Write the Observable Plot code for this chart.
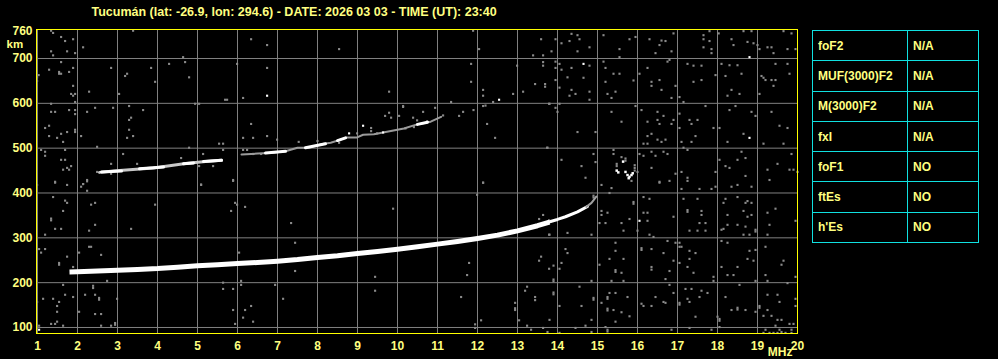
<!DOCTYPE html>
<html>
<head>
<meta charset="utf-8">
<script src="https://cdn.jsdelivr.net/npm/d3@7"></script>
<script src="https://cdn.jsdelivr.net/npm/@observablehq/plot@0.6"></script>
<style>
  html, body { margin: 0; padding: 0; background: #000; }
  #wrap { position: relative; width: 998px; height: 359px; overflow: hidden; background: #000; }
  #params { position: absolute; left: 812px; top: 30px; border-collapse: collapse; font-family: "Liberation Sans", Arial, sans-serif; font-weight: bold; font-size: 12px; color: #ffff80; }
  #params td { border: 1px solid #10e0e0; height: 30.3px; padding: 0 0 0 5px; box-sizing: border-box; }
  #params td.n { width: 95px; }
  #params td.v { width: 71px; }
</style>
</head>
<body>
<div id="wrap"></div>
<script>
// ---- data ----
const titleText = "Tucumán (lat: -26.9, lon: 294.6) - DATE: 2026 03 03 - TIME (UT): 23:40";
const freqTicks = [1,2,3,4,5,6,7,8,9,10,11,12,13,14,15,16,17,18,19,20];
const heightTicks = [100,200,300,400,500,600,700,760];
const paramNames = ["foF2","MUF(3000)F2","M(3000)F2","fxI","foF1","ftEs","h'Es"];
const paramValues = ["N/A","N/A","N/A","N/A","NO","NO","NO"];

// F-layer first-hop trace [MHz, km]
const traceF = [[1.8,224],[2,224.5],[2.5,226],[3,227.5],[3.5,229.5],[4,231.5],[4.5,234.5],[5,237.5],[5.5,240],[6,242.5],[6.5,245],[7,248],[7.5,251.5],[8,256],[8.5,260],[9,265],[9.5,269.5],[10,274.5],[10.5,280],[11,286],[11.5,292],[12,298.5],[12.5,306],[13,315.5],[13.5,327],[13.8,335]];
const traceFTail = [[13.7,333],[14.0,341],[14.2,347],[14.5,358],[14.75,370]];
const traceFEnd = [[14.72,369],[14.85,378],[14.97,392]];
// second-hop echo (grey base, white bright parts)
const echo2A = [[2.55,446],[2.9,449],[3.3,452],[3.9,456],[4.3,461],[4.7,466],[5.2,470],[5.6,473]];
const echo2B = [[6.1,486],[6.5,488],[6.9,490],[7.2,493],[7.5,501],[7.78,501],[7.98,506],[8.16,510],[8.33,512],[8.54,518],[8.74,524],[8.99,524],[9.14,530],[9.41,531],[9.64,535],[10.16,544],[10.49,553],[10.83,559],[11.09,570]];
const echo2White = [
  [[2.6,447],[3.1,449]],
  [[3.55,454],[4.15,458]],
  [[4.65,465],[4.9,467]],
  [[5.15,470],[5.6,473]],
  [[6.7,489],[7.2,493]],
  [[7.7,501],[8.2,510]],
  [[8.5,517],[8.7,523]],
  [[10.5,553],[10.75,558]]
];
const echo2Dots = [[8.79,533],[9.14,550],[9.64,535],[10.74,559],[12.54,608]];
// curl near 15.5 MHz
const curlWhite = [[15.48,450],[15.52,446],[15.64,470],[15.7,447],[15.75,440],[15.8,436],[15.85,440],[15.88,444],[15.78,433]];
const curlGrey = [[15.48,460],[15.48,465],[15.7,472],[15.7,477],[15.93,450],[15.93,456],[15.93,462],[15.6,480],[16.0,447]];

// scattered noise points [MHz, km]
const noiseWhite = [[6.74,617],[14.65,688],[18.8,703],[18.8,523],[1.04,95],[16.05,338]];
const noiseGrey = [
[1.34,762],[1.39,757],[1.59,748],[1.69,739],[1.89,743],[2.14,725],[1.34,716],[1.39,707],[1.74,716],[1.94,712],[1.59,692],[1.29,675],[1.54,666],[1.54,670],[1.59,666],[1.79,670],[1.89,679],[1.03,663],[2.84,679],[3.24,666],[3.19,661],[3.84,679],[4.29,688],[4.64,703],[4.69,692],[4.79,658],[3.94,648],[1.89,639],[2.29,626],[3.04,621],[1.84,621],[1.89,617],[1.94,621],[1.94,603],[1.34,599],[1.34,581],[1.44,581],[1.79,585],[1.94,585],[1.94,576],[2.24,581],[2.44,590],[2.89,590],[3.29,594],[3.64,585],[3.34,568],[3.29,563],[1.19,545],[1.29,550],[1.74,536],[1.59,532],[1.94,541],[1.94,536],[1.29,527],[1.49,523],[1.64,514],[2.09,527],[3.29,541],[3.24,523],[3.39,527],[2.49,503],[1.69,496],[1.09,496],[1.19,492],[1.19,483],[1.59,474],[1.69,474],[1.84,460],[1.74,456],[1.64,452],[1.79,452],[2.84,465],[2.84,443],[2.49,447],[3.14,487],[3.49,465],[4.59,478],[4.79,501],[5.14,487],[5.04,460],[5.39,460],[5.69,608],[5.74,608],[4.94,599],[5.04,599],[5.99,688],[6.14,612],[6.34,743],[6.74,730],[6.74,679],[6.34,554],[6.74,527],[6.14,523],[6.39,523],[6.99,519],[5.54,510],[5.64,510],[5.64,496],[6.14,496],[6.24,496],[6.39,487],[6.59,487],[1.44,425],[2.14,420],[2.24,429],[5.89,429],[5.09,419],[0.99,658],[0.99,650],[3.39,762],
[11.89,762],[13.59,743],[8.54,721],[12.04,721],[13.39,707],[13.64,707],[13.64,692],[13.64,684],[12.99,684],[11.84,688],[11.84,648],[12.14,630],[9.79,626],[13.44,643],[13.69,643],[13.69,637],[13.14,626],[12.89,621],[12.14,617],[12.39,603],[11.34,603],[12.14,594],[13.79,599],[10.14,594],[10.94,590],[10.64,581],[11.64,581],[11.54,572],[12.24,554],[12.44,523],[13.74,501],[12.14,423],[7.53,514],[8.0,516],[8.54,512],[8.99,533],[9.34,545],[9.34,538],[9.49,533],[9.69,572],[9.79,579],[9.84,568],[10.04,572],[10.14,592],[10.2,544],[10.41,547],[10.39,568],[10.49,562],[11.14,573],[11.9,585],[12.2,595],
[14.35,755],[14.5,752],[14.55,743],[14.3,739],[14.1,734],[13.85,716],[14.5,716],[14.8,725],[13.95,743],[15.15,752],[15.55,721],[15.55,703],[15.8,743],[15.95,748],[16.3,743],[16.6,740],[16.7,739],[16.55,730],[16.45,712],[16.85,716],[16.9,756],[17.65,752],[17.65,743],[17.8,761],[17.8,739],[17.85,721],[17.85,712],[18.03,756],[17.65,725],[18.35,743],[18.4,730],[18.65,761],[18.75,737],[18.85,761],[18.9,734],[19.0,730],[19.05,721],[19.25,725],[19.35,725],[19.4,712],[19.65,761],[19.85,756],[19.75,721],[19.95,721],[13.95,693],[14.05,688],[14.1,675],[14.35,679],[13.95,679],[14.25,658],[13.95,652],[14.05,635],[14.65,657],[14.8,684],[15.15,693],[15.2,679],[15.4,666],[15.55,666],[15.9,651],[15.2,648],[15.45,626],[15.35,612],[15.25,621],[14.8,626],[14.8,608],[14.45,621],[14.35,630],[14.3,617],[14.05,599],[13.95,590],[14.0,581],[13.8,599],[15.95,594],[16.25,679],[16.05,666],[16.35,648],[16.35,639],[16.55,652],[16.6,630],[16.75,693],[16.8,697],[16.95,639],[16.85,612],[17.05,614],[17.15,603],[17.25,688],[17.4,684],[17.6,684],[17.4,648],[17.6,652],[17.95,663],[18.1,688],[18.3,685],[18.5,685],[18.2,661],[18.6,666],[18.35,630],[18.25,617],[18.55,621],[19.1,661],[19.15,657],[19.35,652],[19.45,652],[19.4,639],[19.45,688],[19.75,688],[19.8,666],[19.05,621],[19.2,652],[15.35,581],[15.6,559],[14.95,536],[14.5,536],[16.1,585],[16.25,559],[16.5,581],[16.65,572],[16.5,563],[16.55,554],[16.9,563],[16.85,554],[17.05,577],[17.05,545],[17.3,563],[17.5,563],[17.35,554],[17.7,594],[17.9,545],[18.05,545],[18.3,585],[18.45,594],[18.85,581],[18.95,572],[19.35,581],[19.55,550],[19.75,545],[18.65,532],[18.25,514],[19.15,510],[19.65,510],[17.45,527],[17.35,514],[17.1,514],[16.7,519],[16.6,514],[16.5,519],[16.35,532],[16.25,527],[16.15,510],[16.25,510],[13.75,501],[14.1,474],[14.9,487],[14.95,469],[14.6,460],[14.7,434],[15.4,496],[15.4,487],[16.05,487],[16.15,483],[16.35,492],[16.45,483],[16.65,492],[16.75,487],[17.15,501],[17.25,496],[17.1,447],[17.25,434],[16.95,443],[17.95,447],[18.05,474],[18.2,460],[18.3,456],[18.5,474],[18.7,478],[18.6,492],[18.7,438],[19.25,452],[19.5,465],[19.8,452],[19.85,487],[19.9,452],[20.0,447],[19.3,429],[16.55,425],[16.35,456],
[1.44,423],[1.74,418],[2.09,414],[2.14,420],[2.24,405],[2.24,426],[5.09,418],[5.89,427],[1.39,391],[1.69,383],[1.74,378],[2.34,374],[2.44,378],[1.64,360],[3.94,374],[5.94,378],[5.99,374],[6.19,369],[5.84,360],[1.34,343],[1.34,339],[1.44,320],[1.59,320],[2.44,329],[2.29,316],[3.34,320],[1.19,307],[1.04,275],[1.19,275],[1.09,267],[2.04,267],[2.29,280],[2.34,280],[2.59,262],[1.74,258],[1.54,244],[1.54,240],[1.89,235],[6.04,267],[2.74,204],[1.64,195],[2.39,193],[2.39,188],[5.64,200],[5.89,186],[5.64,186],[6.09,204],[6.09,195],[6.94,195],[1.69,173],[1.89,168],[2.19,173],[2.44,173],[2.54,166],[2.54,162],[1.14,164],[1.39,164],[2.99,164],[7.14,164],[1.54,157],[1.49,148],[2.04,135],[1.49,135],[2.44,130],[2.59,130],[5.89,139],[6.19,139],[6.34,148],[6.14,122],[6.39,113],[5.94,108],[1.34,108],[1.44,108],[1.49,113],[1.64,104],[2.59,104],[2.84,104],[2.94,110],[2.94,106],[1.04,104],[0.99,157],[0.99,418],
[12.14,423],[11.99,396],[9.89,365],[7.34,333],[7.44,289],[7.44,226],[9.44,213],[9.44,182],[11.79,244],[11.74,217],[11.59,168],[12.09,116],[11.94,107],[11.94,99],[12.94,155],[12.94,139],[12.94,143],[13.04,116],[13.19,182],[13.24,191],[13.44,168],[13.44,161],[13.24,104],[13.34,95],[13.64,99],[13.54,249],[13.59,258],[13.79,231],[13.79,307],[13.64,351],[13.54,342],[13.79,339],
[15.1,418],[15.35,411],[15.85,427],[16.55,423],[16.8,427],[17.1,409],[17.25,427],[17.55,409],[17.85,409],[17.95,414],[18.35,414],[18.5,418],[18.85,414],[14.9,394],[14.9,390],[15.3,400],[15.9,380],[15.9,376],[16.15,391],[16.3,387],[17.15,387],[17.5,387],[18.2,387],[18.5,391],[18.7,378],[18.85,378],[18.15,378],[17.25,358],[17.25,362],[17.6,360],[17.6,351],[18.25,351],[18.65,360],[18.75,347],[18.85,351],[18.75,382],[19.45,365],[19.25,356],[19.95,338],[19.3,329],[15.25,356],[15.1,360],[15.1,351],[15.05,333],[15.2,333],[15.6,333],[15.8,342],[16.25,338],[16.15,356],[16.25,356],[16.9,347],[17.55,333],[17.7,333],[18.25,329],[18.15,320],[18.1,318],[18.5,329],[18.7,325],[18.95,318],[18.95,314],[18.65,307],[18.8,307],[19.25,307],[17.3,316],[17.5,316],[17.7,316],[16.4,302],[16.3,307],[15.65,316],[16.0,316],[14.85,307],[14.25,311],[13.8,307],[16.75,293],[17.05,289],[17.1,280],[17.05,280],[16.95,289],[16.35,275],[16.1,277],[16.1,273],[15.45,289],[15.45,271],[15.65,253],[15.3,253],[15.05,240],[15.45,228],[15.45,224],[15.6,222],[16.35,235],[16.35,229],[16.65,266],[16.9,249],[16.8,226],[16.7,208],[17.3,271],[17.45,266],[17.3,253],[17.05,244],[17.25,235],[17.4,222],[17.9,213],[17.9,204],[18.1,293],[18.25,289],[18.1,235],[18.5,235],[18.25,217],[18.4,217],[18.8,271],[18.75,253],[18.95,273],[18.9,249],[19.2,280],[19.6,240],[19.65,249],[19.2,217],[19.25,204],[18.95,204],[18.55,195],[19.75,199],[19.95,213],[14.2,275],[14.25,266],[14.1,244],[13.9,238],[14.05,231],[13.9,207],[13.9,203],[13.9,178],[13.9,174],[14.55,191],[14.85,204],[15.35,204],[15.65,204],[15.3,177],[15.45,177],[15.25,168],[15.25,164],[15.75,168],[14.9,166],[14.9,162],[14.6,148],[15.1,155],[15.25,142],[15.25,138],[15.4,139],[15.6,134],[15.8,125],[15.45,113],[14.85,117],[14.7,104],[14.45,99],[15.2,101],[15.25,95],[15.25,91],[16.45,168],[16.7,155],[16.8,195],[16.9,177],[17.05,155],[17.05,151],[17.2,186],[17.35,186],[17.6,182],[17.75,177],[17.55,168],[17.25,164],[17.3,157],[17.45,124],[17.3,99],[16.85,95],[17.85,95],[18.05,119],[18.05,115],[18.0,124],[18.2,168],[18.05,101],[18.5,144],[18.5,140],[18.35,139],[18.7,139],[18.95,135],[19.05,148],[19.05,144],[19.25,173],[19.5,173],[19.55,157],[19.25,139],[19.15,126],[19.35,126],[19.5,117],[19.6,117],[19.45,104],[19.2,95],[19.55,95],[19.8,108],[19.9,108],[19.85,95],[19.95,148],[19.95,164],[13.8,117],[14.05,148],[13.75,90],[14.85,90],[14.05,88],[19.5,88],[19.7,88],[19.3,88],[19.15,88],[19.4,88],[19.6,90],[19.85,88],[16.1,153],[16.15,148],[16.35,148],[16.65,157]
];

// ---- drawing ----
const textColor = "#ffff80";
const gridColor = "#808080";
const fx = d => d[0], fy = d => d[1];

const chart = Plot.plot({
  width: 998,
  height: 359,
  marginLeft: 36,
  marginRight: 201,
  marginTop: 29,
  marginBottom: 26,
  x: {domain: [0.975, 20]},
  y: {domain: [86.6, 764.7]},
  style: {background: "#000", color: textColor, fontFamily: "'Liberation Sans', Arial, sans-serif", fontWeight: "bold", fontSize: "12px", overflow: "visible"},
  marks: [
    Plot.ruleX(freqTicks, {stroke: gridColor, strokeWidth: 1}),
    Plot.ruleY(heightTicks.filter(d => d < 760), {stroke: gridColor, strokeWidth: 1}),
    Plot.dot(noiseGrey, {x: fx, y: fy, symbol: "square", r: 1.2, fill: "#8a8a8a", stroke: null}),
    Plot.dot(curlGrey, {x: fx, y: fy, symbol: "square", r: 1.2, fill: "#8a8a8a", stroke: null}),
    Plot.line(echo2A, {x: fx, y: fy, stroke: "#c8c8c8", strokeWidth: 3}),
    Plot.line(echo2B, {x: fx, y: fy, stroke: "#9a9a9a", strokeWidth: 2}),
    ...echo2White.map(seg => Plot.line(seg, {x: fx, y: fy, stroke: "#ffffff", strokeWidth: 3})),
    Plot.dot(echo2Dots, {x: fx, y: fy, symbol: "square", r: 1.2, fill: "#ffffff", stroke: null}),
    Plot.line(traceF, {x: fx, y: fy, stroke: "#ffffff", strokeWidth: 5, strokeLinecap: "butt"}),
    Plot.line(traceFTail, {x: fx, y: fy, stroke: "#ffffff", strokeWidth: 3}),
    Plot.line(traceFEnd, {x: fx, y: fy, stroke: "#a0a0a0", strokeWidth: 2}),
    Plot.dot(curlWhite, {x: fx, y: fy, symbol: "square", r: 1.4, fill: "#ffffff", stroke: null}),
    Plot.dot(noiseWhite, {x: fx, y: fy, symbol: "square", r: 1.2, fill: "#ffffff", stroke: null}),
    Plot.frame({stroke: "#ffff00", strokeWidth: 1}),
    Plot.axisX(freqTicks, {tickSize: 0, tickPadding: 8, fill: textColor, fontWeight: "bold", label: null}),
    Plot.axisY(heightTicks, {tickSize: 0, tickPadding: 4, fill: textColor, fontWeight: "bold", label: null}),
    Plot.text(["km"], {frameAnchor: "top-left", dx: -30, dy: 10, textAnchor: "start", fill: textColor, fontWeight: "bold", fontSize: 11.5}),
    Plot.text(["MHz"], {frameAnchor: "bottom-right", dx: -5, dy: 22, textAnchor: "end", fill: textColor, fontWeight: "bold", fontSize: 12}),
    Plot.text([titleText], {frameAnchor: "top-left", dx: 55, dy: -22, textAnchor: "start", fill: textColor, fontWeight: "bold", fontSize: 12.5})
  ]
});

const wrap = document.getElementById("wrap");
wrap.appendChild(chart);

const table = document.createElement("table");
table.id = "params";
paramNames.forEach((name, i) => {
  const tr = document.createElement("tr");
  const a = document.createElement("td"); a.className = "n"; a.textContent = name;
  const b = document.createElement("td"); b.className = "v"; b.textContent = paramValues[i];
  tr.appendChild(a); tr.appendChild(b);
  table.appendChild(tr);
});
wrap.appendChild(table);
</script>
</body>
</html>
